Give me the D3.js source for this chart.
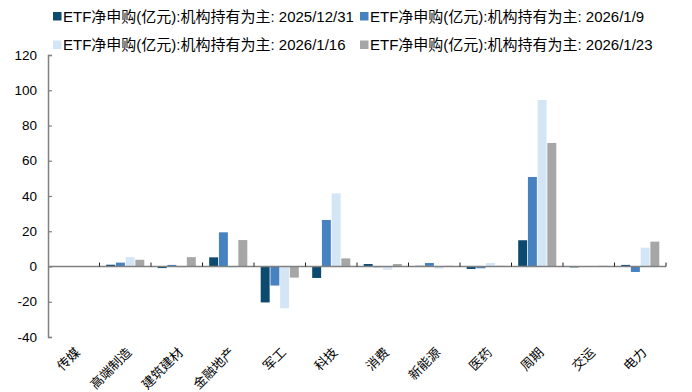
<!DOCTYPE html>
<html><head><meta charset="utf-8">
<script src="https://cdn.jsdelivr.net/npm/d3@7"></script>
<style>body{margin:0;background:#fff}svg{display:block}</style>
</head><body>
<svg id="c" width="692" height="392"></svg>
<script>
const categories = ["传媒","高端制造","建筑建材","金融地产","军工","科技","消费","新能源","医药","周期","交运","电力"];
const seriesNames = [
  "ETF净申购(亿元):机构持有为主: 2025/12/31",
  "ETF净申购(亿元):机构持有为主: 2026/1/9",
  "ETF净申购(亿元):机构持有为主: 2026/1/16",
  "ETF净申购(亿元):机构持有为主: 2026/1/23"
];
const s20251231 = [0, 1.0, -0.9, 5.2, -20.4, -6.5, 1.4, 0.4, -1.4, 14.9, -0.5, 0.9];
const s20260109 = [0, 2.2, 0.9, 19.4, -10.8, 26.4, -0.4, 2.0, -1.0, 50.8, -0.3, -3.1];
const s20260116 = [0, 5.3, -0.5, -0.5, -23.7, 41.5, -1.8, -1.2, 2.0, 94.5, 0.2, 10.7];
const s20260123 = [0, 3.8, 5.3, 15.0, -6.3, 4.6, 1.4, 0.4, 0.4, 70.1, 0.4, 14.1];
const seriesValues = [s20251231, s20260109, s20260116, s20260123];
const colors = ["#0d4a6f", "#4681c0", "#d4e5f5", "#a6a6a6"];
const yTicks = [-40, -20, 0, 20, 40, 60, 80, 100, 120];

const svg = d3.select("#c");
const x0 = d3.scaleBand().domain(categories).range([48, 666]).paddingInner(0).paddingOuter(0);
const bw = x0.bandwidth();
const x1 = d3.scaleBand().domain(d3.range(seriesNames.length)).range([bw*0.13, bw*0.87]).paddingInner(0.08);
const y = d3.scaleLinear().domain([-40, 120]).range([337, 55]);

// bars
const rows = categories.map((c, i) => ({c, vals: seriesValues.map(s => s[i])}));
const g = svg.append("g");
rows.forEach(r => {
  r.vals.forEach((v, k) => {
    g.append("rect")
      .attr("x", x0(r.c) + x1(k))
      .attr("width", x1.bandwidth())
      .attr("y", y(Math.max(0, v)))
      .attr("height", Math.abs(y(v) - y(0)))
      .attr("fill", colors[k]);
  });
});

// y axis
const yAxis = d3.axisRight(y).tickValues(yTicks).tickSize(4).tickFormat("");
const ya = svg.append("g").attr("transform", "translate(48,0)").call(yAxis);
ya.select(".domain").attr("stroke", "#808080").attr("stroke-width", 1.5);
ya.selectAll(".tick line").attr("stroke", "#808080").attr("stroke-width", 1.2);
svg.append("g").selectAll("text").data(yTicks).join("text")
  .attr("x", 37).attr("y", d => y(d)).attr("dy", "0.35em")
  .attr("text-anchor", "end")
  .attr("font-family", "'Liberation Sans', Arial, sans-serif").attr("font-size", 13.5)
  .attr("fill", "#000").text(d => d);

// zero line with category ticks
svg.append("line").attr("x1", 48).attr("x2", 666).attr("y1", y(0)).attr("y2", y(0))
  .attr("stroke", "#808080").attr("stroke-width", 1.5);
svg.append("g").selectAll("line").data(categories).join("line")
  .attr("x1", d => x0(d) + bw).attr("x2", d => x0(d) + bw)
  .attr("y1", y(0)).attr("y2", y(0) - 4)
  .attr("stroke", "#222").attr("stroke-width", 1);

// x labels
svg.append("g").selectAll("text").data(categories).join("text")
  .attr("transform", d => `translate(${x0(d) + bw/2 + 4},${350}) rotate(-45)`)
  .attr("text-anchor", "end").attr("dy", "0.35em")
  .attr("font-family", "'Noto Sans CJK SC', sans-serif").attr("font-size", 13)
  .attr("fill", "#000").text(d => d);

// legend
const legPos = [[53, 21.5], [360, 21.5], [53, 50], [360, 50]];
seriesNames.forEach((n, k) => {
  const [lx, ly] = legPos[k];
  svg.append("rect").attr("x", lx).attr("y", ly - 9.5).attr("width", 8.5).attr("height", 8.5).attr("fill", colors[k]);
  svg.append("text").attr("x", lx + 10).attr("y", ly)
    .attr("font-family", "'Liberation Sans', 'Noto Sans CJK SC', sans-serif").attr("font-size", 15)
    .attr("fill", "#000").text(n);
});
</script>
</body></html>
